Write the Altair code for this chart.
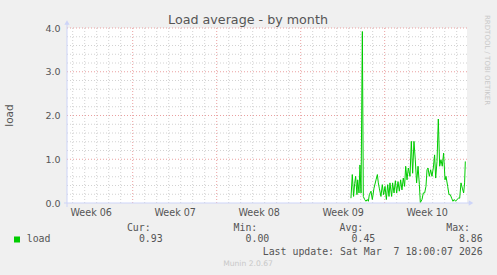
import altair as alt
import pandas as pd

# ---- data (days since Mon 2 Feb 2026 00:00) ----
days = [25.19, 25.30, 25.41, 25.50, 25.58, 25.69, 25.75, 25.86, 25.94, 26.03,
        26.14, 26.22, 26.33, 26.44, 26.55, 26.64, 26.72, 26.86, 26.97, 27.11,
        27.28, 27.39, 27.47, 27.55, 27.69, 27.80, 27.91, 28.03, 28.14, 28.25,
        28.36, 28.44, 28.58, 28.66, 28.78, 28.89, 29.00, 29.11, 29.22, 29.33,
        29.44, 29.55, 29.66, 29.75, 29.86, 29.97, 30.11, 30.22, 30.33, 30.44,
        30.55, 30.66, 30.78, 30.89, 30.97, 31.11, 31.22, 31.33, 31.44, 31.53,
        31.61, 31.72, 31.83, 31.94, 32.05, 32.16, 32.25, 32.36, 32.47, 32.58,
        32.69, 32.80, 32.91, 33.03, 33.11, 33.25, 33.36, 33.47, 33.58, 33.69,
        33.80, 33.91, 34.03, 34.14, 34.25, 34.36, 34.47, 34.58, 34.66, 34.72]
load = [0.11, 0.65, 0.15, 0.45, 0.61, 0.19, 0.53, 0.23, 0.87, 0.23,
        3.92, 0.15, 0.08, 0.04, 0.08, 0.04, 0.19, 0.27, 0.08, 0.34,
        0.53, 0.65, 0.46, 0.34, 0.15, 0.42, 0.19, 0.38, 0.08, 0.42,
        0.15, 0.46, 0.15, 0.46, 0.23, 0.51, 0.23, 0.49, 0.27, 0.53,
        0.30, 0.57, 0.38, 0.84, 0.53, 0.80, 0.61, 1.41, 0.68, 1.41,
        0.99, 0.46, 0.84, 0.42, 0.01, 0.08, 0.23, 0.23, 0.38, 0.76,
        0.80, 0.61, 0.76, 0.61, 0.80, 1.10, 0.57, 0.95, 1.92, 0.84,
        0.99, 0.84, 1.14, 0.53, 0.61, 0.38, 0.19, 0.19, 0.11, 0.04,
        0.08, 0.04, 0.08, 0.11, 0.11, 0.46, 0.34, 0.23, 0.46, 0.95]

day_grid = [d for d in range(2, 35) if d % 7 != 0]
week_grid = [7, 14, 21, 28]
week_mid = [3.5, 10.5, 17.5, 24.5, 31.5]
week_labels = ["Week 06", "Week 07", "Week 08", "Week 09", "Week 10"]
y_minor = [0.2, 0.4, 0.6, 0.8, 1.2, 1.4, 1.6, 1.8, 2.2, 2.4, 2.6, 2.8,
           3.2, 3.4, 3.6, 3.8]
y_major = [1, 2, 3, 4]
y_ticks = [0, 1, 2, 3, 4]

title_text = "Load average - by month"
series_name = "load"
stat_names = ["Cur:", "Min:", "Avg:", "Max:"]
stat_values = ["0.93", "0.00", "0.45", "8.86"]
last_update = "Last update: Sat Mar\u00a0 7 18:00:07 2026"
footer = "Munin 2.0.67"
side_text = "RRDTOOL / TOBI OETIKER"

# ---- layout / style ----
X_DOMAIN = [1.525, 34.86]
W, H = 400, 175
FONT = "DejaVu Sans"
MONO = "DejaVu Sans Mono"
TXT = "#555555"
AXIS_C = "#cdd4f8"
MINOR_C = "#d2d2d2"
MAJOR_C = "#eaa0a0"
GREEN = "#00cc00"
stat_head_right = [83.7, 190.3, 296.3, 403.0]
stat_val_right = [95.7, 202.3, 308.3, 415.7]

xs = alt.Scale(domain=X_DOMAIN, nice=False, zero=False)
ys = alt.Scale(domain=[0, 4], nice=False)

label_expr = ("[" + ",".join("'%s'" % s for s in week_labels) + "][indexof(["
              + ",".join(str(v) for v in week_mid) + "], datum.value)]")

x_axis = alt.Axis(values=week_mid, labelExpr=label_expr, grid=False,
                  domain=False, ticks=False, labelPadding=4, labelFont=FONT,
                  labelFontSize=9.6, labelColor=TXT, title=None,
                  labelFlush=False)
y_axis = alt.Axis(values=y_ticks, format=".1f", grid=False, domain=False,
                  ticks=False, labelPadding=7, labelFont=FONT,
                  labelFontSize=9.5, labelColor=TXT, title=None)

vminor = alt.Chart(pd.DataFrame({"d": day_grid})).mark_rule(
    color=MINOR_C, strokeDash=[1, 2], strokeWidth=1).encode(
    x=alt.X("d:Q", scale=xs, axis=x_axis))
hminor = alt.Chart(pd.DataFrame({"v": y_minor})).mark_rule(
    color=MINOR_C, strokeDash=[1, 2], strokeWidth=1).encode(
    y=alt.Y("v:Q", scale=ys, axis=y_axis))
vmajor = alt.Chart(pd.DataFrame({"d": week_grid})).mark_rule(
    color=MAJOR_C, strokeDash=[1, 2], strokeWidth=1).encode(
    x=alt.X("d:Q", scale=xs, axis=x_axis))
hmajor = alt.Chart(pd.DataFrame({"v": y_major})).mark_rule(
    color=MAJOR_C, strokeDash=[1, 2], strokeWidth=1).encode(
    y=alt.Y("v:Q", scale=ys, axis=y_axis))

line = alt.Chart(pd.DataFrame({"day": days, "load": load})).mark_line(
    color=GREEN, strokeWidth=1, clip=True).encode(
    x=alt.X("day:Q", scale=xs, axis=x_axis),
    y=alt.Y("load:Q", scale=ys, axis=y_axis))

one = pd.DataFrame({"k": [0]})
yaxis_line = alt.Chart(one).mark_rule(color=AXIS_C, strokeWidth=1).encode(
    x=alt.value(0), y=alt.value(-5), y2=alt.value(179))
xaxis_line = alt.Chart(one).mark_rule(color=AXIS_C, strokeWidth=1).encode(
    x=alt.value(-3), x2=alt.value(403), y=alt.value(H))
yarrow = alt.Chart(one).mark_point(shape="triangle-up", filled=True,
                                    color=AXIS_C, opacity=1, size=28).encode(
    x=alt.value(0), y=alt.value(-5.5))
xarrow = alt.Chart(one).mark_point(shape="triangle-right", filled=True,
                                    color=AXIS_C, opacity=1, size=28).encode(
    x=alt.value(404), y=alt.value(H))


def txt(text, x, y, **kw):
    return alt.Chart(pd.DataFrame({"t": [text]})).mark_text(**kw).encode(
        text="t:N", x=alt.value(x), y=alt.value(y))


title = txt(title_text, 181, -8.5, font=FONT, fontSize=12.7, color=TXT,
            align="center", baseline="middle")
ytitle = txt(series_name, -57, 87.5, font=FONT, fontSize=10.5, color=TXT,
             align="center", baseline="middle", angle=270)
side = txt(side_text, 420, -13, font=FONT, fontSize=7, color="#c8c8c8",
           align="left", baseline="middle", angle=90)
heads = alt.Chart(pd.DataFrame({"t": stat_names, "px": stat_head_right})).mark_text(
    font=MONO, fontSize=9.9, color=TXT, align="right", baseline="middle").encode(
    text="t:N", x=alt.X("px:Q", scale=None), y=alt.value(199.7))
vals = alt.Chart(pd.DataFrame({"t": stat_values, "px": stat_val_right})).mark_text(
    font=MONO, fontSize=9.9, color=TXT, align="right", baseline="middle").encode(
    text="t:N", x=alt.X("px:Q", scale=None), y=alt.value(211.3))
swatch = alt.Chart(one).mark_square(color=GREEN, size=36, opacity=1).encode(
    x=alt.value(-50), y=alt.value(211.5))
legname = txt(series_name, -40.3, 211.3, font=MONO, fontSize=9.9, color=TXT,
              align="left", baseline="middle")
upd = txt(last_update, 415.7, 223.7, font=MONO, fontSize=9.9, color=TXT,
          align="right", baseline="middle")
foot = txt(footer, 181, 236, font=FONT, fontSize=7.6, color="#c8c8c8",
           align="center", baseline="middle")

chart = alt.layer(
    vminor, hminor, vmajor, hmajor, line, yaxis_line, xaxis_line, yarrow,
    xarrow, title, ytitle, side, heads, vals, swatch, legname, upd, foot
).properties(
    width=W, height=H,
    autosize=alt.AutoSizeParams(type="none"),
    padding={"left": 67, "top": 28, "right": 30, "bottom": 72},
    background="#f0f0f0",
).configure_view(fill="white", stroke=None)

chart.save("out.html", embed_options={"renderer": "svg", "actions": False})
